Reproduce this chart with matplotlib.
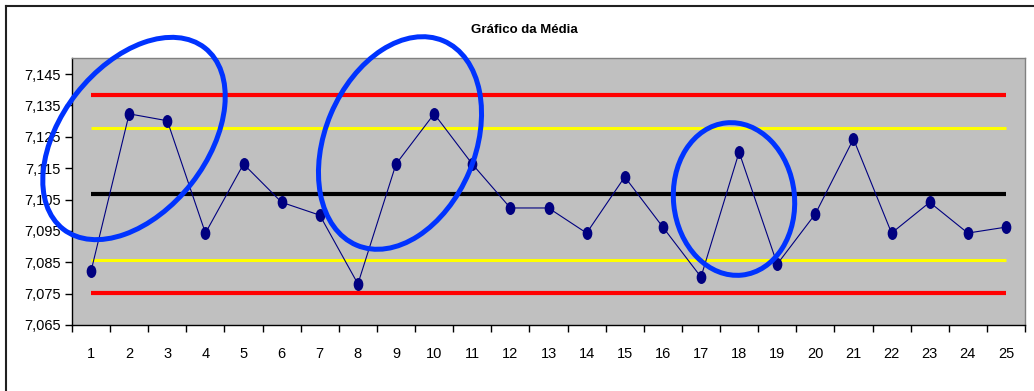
import matplotlib
matplotlib.use("Agg")
import matplotlib.pyplot as plt
from matplotlib.patches import Ellipse
from matplotlib.path import Path
from matplotlib.lines import Line2D
from matplotlib.transforms import Affine2D
import numpy as np

plt.rcParams['font.family'] = ['Liberation Sans', 'DejaVu Sans']

# ---- data ----
title = "Gráfico da Média"
samples = list(range(1, 26))
means = [7.0822, 7.1323, 7.1301, 7.0943, 7.1163, 7.1041, 7.1000, 7.0781, 7.1163, 7.1323,
         7.1163, 7.1023, 7.1023, 7.0943, 7.1122, 7.0962, 7.0803, 7.1201, 7.0844, 7.1004,
         7.1243, 7.0943, 7.1041, 7.0943, 7.0962]
center_line = 7.1068
ucl = 7.1383
lcl = 7.0752
upper_warn = 7.1278
lower_warn = 7.0857
ytick_values = [7.065, 7.075, 7.085, 7.095, 7.105, 7.115, 7.125, 7.135, 7.145]
ytick_labels = ["7,065", "7,075", "7,085", "7,095", "7,105", "7,115", "7,125", "7,135", "7,145"]

W, H = 1034, 391
fig = plt.figure(figsize=(W / 100, H / 100), dpi=100)
fig.patch.set_facecolor('white')
ax = fig.add_axes([72 / W, 1 - 325 / H, (1025 - 72) / W, (325 - 58) / H])
ax.set_facecolor('#C0C0C0')

n = len(samples)
ax.plot(samples, [ucl] * n, color='#FF0000', lw=3.0, solid_capstyle='butt', zorder=2)
ax.plot(samples, [lcl] * n, color='#FF0000', lw=3.0, solid_capstyle='butt', zorder=2)
ax.plot(samples, [upper_warn] * n, color='#FFFF00', lw=2.2, solid_capstyle='butt', zorder=2)
ax.plot(samples, [lower_warn] * n, color='#FFFF00', lw=2.2, solid_capstyle='butt', zorder=2)
ax.plot(samples, [center_line] * n, color='black', lw=3.0, solid_capstyle='butt', zorder=2)

marker_path = Path.unit_circle().transformed(Affine2D().scale(0.72, 1.0))
ax.plot(samples, means, color='#000080', lw=0.8, marker=marker_path, markersize=8.3,
        markerfacecolor='#000080', markeredgecolor='#000080', zorder=3)

ax.set_xlim(0.5, 25.5)
ax.set_ylim(7.065, 7.1501)
ax.set_yticks(ytick_values)
ax.set_yticklabels(ytick_labels)
ax.set_xticks(samples)
ax.set_xticklabels([str(s) for s in samples])
ax.set_xticks(np.arange(0.5, 26, 1.0), minor=True)
ax.tick_params(axis='x', which='major', length=0, pad=16, labelsize=10.5)
ax.tick_params(axis='x', which='minor', length=5, width=1, color='black', direction='out')
ax.tick_params(axis='y', which='major', length=5, width=1, color='black', direction='out',
               pad=3, labelsize=10.5)
for s in ['left', 'bottom']:
    ax.spines[s].set_color('black')
    ax.spines[s].set_linewidth(1.0)
for s in ['top', 'right']:
    ax.spines[s].set_color('#808080')
    ax.spines[s].set_linewidth(1.0)

fig.text(524 / W, 1 - 30 / H, title, ha='center', va='center', fontsize=9.5, fontweight='bold')

# outer chart frame
pix = Affine2D().scale(1 / W, 1 / H) + fig.transFigure
fig.add_artist(Line2D([6, W], [H - 6, H - 6], transform=pix, color='#202020', lw=1.5))
fig.add_artist(Line2D([6, 6], [0, H - 6], transform=pix, color='#202020', lw=1.5))

# highlight ellipses (annotation shapes)
for (cx, cy, a, b, ang) in [(134, 138.5, 115, 73, 52), (400, 143, 111, 75, 67), (734, 199, 76.5, 60.5, 96)]:
    e = Ellipse((cx, H - cy), 2 * a, 2 * b, angle=ang, transform=pix, fill=False,
                edgecolor='#0033FF', lw=3.6, zorder=10)
    fig.add_artist(e)

fig.savefig('out.png', dpi=100, facecolor='white')
